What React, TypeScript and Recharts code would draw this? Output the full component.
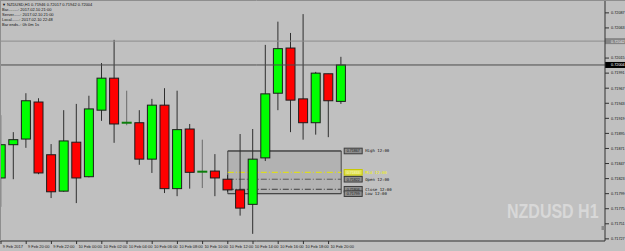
import React from 'react';
import { ComposedChart, Bar, XAxis, YAxis, ReferenceLine, ReferenceArea } from 'recharts';

// ---- data (NZDUSD H1, 9 Feb 18:00 -> 10 Feb 21:00) ----
const opens = [0.71824, 0.71877, 0.71886, 0.71945, 0.71861, 0.71803, 0.71881, 0.71826, 0.71932, 0.71983, 0.71911, 0.71912, 0.71854, 0.7194, 0.71807, 0.71902, 0.71833, 0.71835, 0.71822, 0.71805, 0.71782, 0.71856, 0.71959, 0.72031, 0.7195, 0.71912, 0.7199, 0.71946];
const highs = [0.71924, 0.71897, 0.71959, 0.71951, 0.71878, 0.71932, 0.71942, 0.71955, 0.72007, 0.72044, 0.71963, 0.71932, 0.7195, 0.71967, 0.71963, 0.7191, 0.71885, 0.71862, 0.71829, 0.71894, 0.71902, 0.72036, 0.72073, 0.72055, 0.72085, 0.71993, 0.7199, 0.72017];
const lows = [0.71778, 0.71822, 0.71872, 0.7183, 0.71792, 0.71802, 0.71784, 0.71825, 0.71915, 0.7188, 0.71908, 0.71845, 0.71832, 0.718, 0.71795, 0.71807, 0.71808, 0.71795, 0.71802, 0.71764, 0.71735, 0.71851, 0.71932, 0.71897, 0.71885, 0.71893, 0.71889, 0.71942];
const closes = [0.71877, 0.71885, 0.71947, 0.71832, 0.71802, 0.71883, 0.71824, 0.71934, 0.71983, 0.7191, 0.71912, 0.71854, 0.7194, 0.71807, 0.71901, 0.71833, 0.71834, 0.71824, 0.71805, 0.71776, 0.71854, 0.71958, 0.7203, 0.71948, 0.71912, 0.71991, 0.71947, 0.72004];
const timeLabels = ['9 Feb 2017', '', '9 Feb 20:00', '', '9 Feb 22:00', '', '10 Feb 00:00', '', '10 Feb 02:00', '', '10 Feb 04:00', '', '10 Feb 06:00', '', '10 Feb 08:00', '', '10 Feb 10:00', '', '10 Feb 12:00', '', '10 Feb 14:00', '', '10 Feb 16:00', '', '10 Feb 18:00', '', '10 Feb 20:00', ''];
// 0.72039 is hidden behind the ask-line tag in the reference
const yTicks = [0.72087, 0.72063, 0.72015, 0.71991, 0.71967, 0.71943, 0.71919, 0.71895, 0.71871, 0.71847, 0.71823, 0.71799, 0.71775, 0.71751, 0.71727];
const yDomain = [0.717236, 0.721075];
const askLine = 0.72042;
const bidLine = 0.72004;
const boxStart = 18;
const boxEnd = 27;
const boxHigh = 0.71867;
const boxLow = 0.71799;
const boxOpen = 0.71822;
const boxClose = 0.71806;
const boxMid = 0.71833;
const headerLines = ['Bar.........: 2017.02.10 21:00', 'Server......: 2017.02.10 21:00', 'Local.......: 2017.02.10 22:48', 'Bar ends..: 0h 0m 1s'];

const SLOTS = 48;
const data = Array.from({ length: SLOTS }, (_, i) =>
  i < opens.length ? { i, o: opens[i], h: highs[i], l: lows[i], c: closes[i] } : { i }
);

const Candle = (props: any) => {
  const { x, y, width, height, payload } = props;
  if (!payload || payload.h == null) return null;
  const { o, h, l, c } = payload;
  const top = Math.min(y, y + height);
  const bot = Math.max(y, y + height);
  const span = h - l;
  const py = (p: number) => (span > 0 ? top + ((h - p) / span) * (bot - top) : top);
  const cx = x + width / 2;
  const doji = Math.abs(o - c) < 0.00003;
  const bTop = py(Math.max(o, c));
  const bBot = py(Math.min(o, c));
  return (
    <g>
      <line x1={cx} x2={cx} y1={top} y2={bot} stroke={doji ? '#6a6a6a' : '#2e2e2e'} strokeWidth={1} />
      {doji ? (
        <rect x={cx - 5} y={bTop - 1} width={10} height={2} fill="#0c7e0c" />
      ) : (
        <rect x={cx - 4.5} y={bTop} width={9} height={Math.max(1, bBot - bTop)} fill={c > o ? '#00ff00' : '#ff0000'} stroke="#1c1c1c" strokeWidth={1} />
      )}
    </g>
  );
};

const XTick = (p: any) => {
  const { x, payload } = p;
  const lbl = timeLabels[payload?.value] || '';
  if (!lbl) return <g />;
  return (
    <g>
      <line x1={x} x2={x} y1={241} y2={244} stroke="#303030" />
      <text x={x + 1.8} y={247.6} fontSize={4} fill="#1a1a1a" fontFamily="Liberation Sans">{lbl}</text>
    </g>
  );
};

const axisTag = (value: number, fill: string, color: string) => (p: any) => {
  const vb = p.viewBox;
  if (!vb) return null;
  const xe = vb.x + vb.width;
  const yy = vb.y;
  return (
    <g>
      <rect x={xe} y={yy - 3} width={20} height={6} fill={fill} />
      <text x={xe + 6} y={yy + 1.5} fontSize={3.8} fill={color} fontFamily="Liberation Sans">{value.toFixed(5)}</text>
    </g>
  );
};

const boxTag = (name: string, value: number, mid: boolean) => (p: any) => {
  const vb = p.viewBox;
  if (!vb) return null;
  const xe = vb.x + vb.width;
  const yy = vb.y;
  return (
    <g>
      <rect x={xe + 3} y={yy - 2.8} width={18} height={5.6} fill={mid ? '#e2e25a' : '#8e8e8e'} stroke={mid ? '#c8c800' : '#3c3c3c'} strokeWidth={1} />
      <text x={xe + 12} y={yy + 1.4} fontSize={3.6} textAnchor="middle" fill={mid ? '#f8f8c0' : '#202020'} fontFamily="Liberation Sans">{value.toFixed(5)}</text>
      <text x={xe + 24} y={yy + 1.5} fontSize={4} fill={mid ? '#f4f400' : '#111111'} fontFamily="DejaVu Sans Mono">{name}</text>
    </g>
  );
};

export default function App() {
  return (
    <div style={{ position: 'fixed', left: 0, top: 0, width: 625, height: 251, background: '#c0c0c0', overflow: 'hidden' }}>
      <ComposedChart width={625} height={251} data={data} margin={{ top: 0, right: 0, bottom: 0, left: 0 }}>
        <XAxis dataKey="i" type="category" height={10} padding={{ left: -5.3, right: 5.5 }} interval={0} tickLine={false} tickSize={0} tickMargin={0} axisLine={{ stroke: '#303030' }} tick={<XTick />} />
        <XAxis xAxisId="num" type="number" dataKey="i" domain={[-0.0794, 47.937]} allowDataOverflow hide />
        <YAxis orientation="right" width={20} type="number" domain={yDomain} allowDataOverflow ticks={yTicks} interval={0} tickSize={4} tickMargin={2} tick={{ fontSize: 3.8, fill: '#111', fontFamily: 'Liberation Sans' }} tickFormatter={(v: number) => v.toFixed(5)} axisLine={{ stroke: '#303030' }} tickLine={{ stroke: '#303030' }} />
        <ReferenceArea xAxisId="num" x1={boxStart} x2={boxEnd} y1={boxLow} y2={boxHigh} fill="#b2b2b2" fillOpacity={1} stroke="#454545" strokeWidth={1} ifOverflow="visible" zIndex={50} />
        <ReferenceLine y={askLine} stroke="#8c8c8c" ifOverflow="visible" label={axisTag(askLine, '#868686', '#eeeeee')} />
        <ReferenceLine y={bidLine} stroke="#4c4c4c" ifOverflow="visible" label={axisTag(bidLine, '#000000', '#ffffff')} />
        <ReferenceLine xAxisId="num" segment={[{ x: boxStart, y: boxHigh }, { x: boxEnd, y: boxHigh }]} stroke="#454545" ifOverflow="visible" zIndex={60} label={boxTag('High 12:00', boxHigh, false)} />
        <ReferenceLine xAxisId="num" segment={[{ x: boxStart, y: boxMid }, { x: boxEnd, y: boxMid }]} stroke="#e6e600" strokeDasharray="6 2 1 2" ifOverflow="visible" zIndex={60} label={boxTag('Mid 12:00', boxMid, true)} />
        <ReferenceLine xAxisId="num" segment={[{ x: boxStart, y: boxOpen }, { x: boxEnd, y: boxOpen }]} stroke="#5a5a5a" strokeDasharray="6 2 1 2" ifOverflow="visible" zIndex={60} label={boxTag('Open 12:00', boxOpen, false)} />
        <ReferenceLine xAxisId="num" segment={[{ x: boxStart, y: boxClose }, { x: boxEnd, y: boxClose }]} stroke="#404040" strokeDasharray="6 2 1 2" ifOverflow="visible" zIndex={60} label={boxTag('Close 12:00', boxClose, false)} />
        <ReferenceLine xAxisId="num" segment={[{ x: boxStart, y: boxLow }, { x: boxEnd, y: boxLow }]} stroke="#454545" ifOverflow="visible" zIndex={60} label={boxTag('Low 12:00', boxLow, false)} />
        <Bar dataKey={(d: any) => (d.h == null ? null : [d.l, d.h])} barSize={10} shape={<Candle />} isAnimationActive={false} zIndex={300} />
      </ComposedChart>
      <svg width={625} height={251} style={{ position: 'absolute', left: 0, top: 0, pointerEvents: 'none' }}>
        <line x1={0} x2={625} y1={0.5} y2={0.5} stroke="#8e8e8e" />
        <line x1={0.5} x2={0.5} y1={0} y2={241} stroke="#8e8e8e" />
        <text x={2} y={5.6} fontSize={4} fill="#111" fontFamily="Liberation Sans">▼ NZDUSD,H1  {opens[27].toFixed(5)} {highs[27].toFixed(5)} {lows[27].toFixed(5)} {closes[27].toFixed(5)}</text>
        {headerLines.map((t, k) => (
          <text key={k} x={2} y={11 + k * 4.9} fontSize={4} fill="#111" fontFamily="Liberation Sans">{t}</text>
        ))}
        <g transform="translate(507,218) scale(0.8,1)">
          <text x={0} y={0} fontSize={20} fontWeight="bold" fill="#d8d8d8" fontFamily="Liberation Sans, Arial, sans-serif">NZDUSD H1</text>
        </g>
        <rect x={601.5} y={226} width={3} height={4} fill="#8a8a8a" />
      </svg>
    </div>
  );
}
